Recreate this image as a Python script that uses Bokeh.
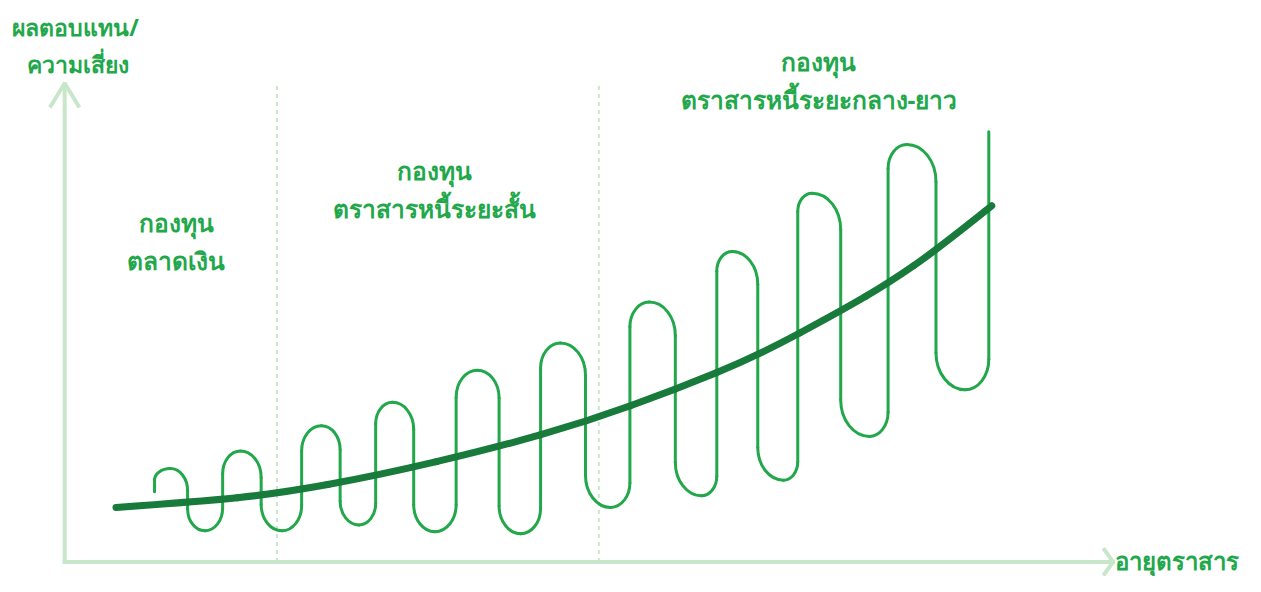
from bokeh.plotting import figure
from bokeh.models import Range1d, ColumnDataSource
from bokeh.core.properties import value
from bokeh.embed import file_html
from bokeh.resources import INLINE

# ---------------- data (conceptual units: x = bond maturity, y = return/risk) -------------
# oscillating "volatility" line: start, alternating peaks / troughs, end
wave_x = [91, 107, 142, 178, 220, 260, 298, 332, 375, 418, 462, 502, 553, 592, 645, 676, 728, 757, 815, 853, 912, 936]
wave_y = [72, 96, 32, 114, 32, 140, 38, 164, 31, 197, 29, 225, 56, 267, 68, 319, 84, 379, 129, 429, 177, 442]

# expected return trend
trend_x = [52, 135, 215, 318, 435, 528, 618, 702, 788, 835, 885, 939]
trend_y = [56, 62, 70, 89, 117, 144, 177, 212, 259, 287, 322, 366]

# zone separators (maturity boundaries)
zone_bounds = [215, 541]

y_title = ["ผลตอบแทน/", "ความเสี่ยง"]
x_title = "อายุตราสาร"
zone_labels = [
    ["กองทุน", "ตลาดเงิน"],
    ["กองทุน", "ตราสารหนี้ระยะสั้น"],
    ["กองทุน", "ตราสารหนี้ระยะกลาง-ยาว"],
]

# ---------------- styling / layout -------------
TEXT_C = "#22a84b"
WAVE_C = "#22a74b"
TREND_C = "#187a3b"
AXIS_C = "#c8e7ca"
FONT = value("Noto Sans")

W, H = 1245, 576
p = figure(width=W, height=H, output_backend="svg", toolbar_location=None,
           x_range=Range1d(-65, 1196), y_range=Range1d(-15, 577),
           min_border=0, outline_line_color=None)
p.axis.visible = False
p.grid.visible = False
p.background_fill_color = "white"
p.border_fill_color = "white"

# axes with arrows
y_top = 489
x_end = 1062
p.segment(x0=[0, 0], y0=[0, 0], x1=[0, x_end], y1=[y_top + 2, 0],
          line_color=AXIS_C, line_width=4, line_cap="square")
p.line(x=[-15, 0, 15], y=[y_top - 22, y_top + 3, y_top - 22], line_color=AXIS_C, line_width=4)
p.line(x=[x_end - 10, x_end, x_end - 10], y=[14, 0, -14], line_color=AXIS_C, line_width=4)

# dotted zone separators
p.segment(x0=zone_bounds, y0=[0] * len(zone_bounds), x1=zone_bounds, y1=[y_top] * len(zone_bounds),
          line_color=AXIS_C, line_width=2, line_dash="4 4")

# ---------------- wave built from extrema with rounded caps -------------
K = 1.3   # vertical/horizontal ratio of loop caps
C = 0.5523
bx0, by0, bx1, by1, bcx0, bcy0, bcx1, bcy1 = ([] for _ in range(8))
sx0, sy0, sx1, sy1 = ([] for _ in range(4))
n = len(wave_x)
for i in range(n - 1):
    ax, ay = wave_x[i], wave_y[i]
    bx, by = wave_x[i + 1], wave_y[i + 1]
    d = 1 if by > ay else -1
    if i == 0:
        sx = ax
    elif i == n - 2:
        sx = bx
    else:
        sx = (ax + bx) / 2.0
    half = abs(by - ay) / 2.0
    if i == 0:
        top = (ax, ay)
    else:
        r = abs(sx - ax)
        ry = min(r * K, half)
        y1 = ay + d * ry
        bx0.append(ax); by0.append(ay); bx1.append(sx); by1.append(y1)
        bcx0.append(ax + C * (sx - ax)); bcy0.append(ay)
        bcx1.append(sx); bcy1.append(y1 - d * C * ry)
        top = (sx, y1)
    if i == n - 2:
        bot = (bx, by)
    else:
        r = abs(bx - sx)
        ry = min(r * K, half)
        y0 = by - d * ry
        bx0.append(sx); by0.append(y0); bx1.append(bx); by1.append(by)
        bcx0.append(sx); bcy0.append(y0 + d * C * ry)
        bcx1.append(bx - C * (bx - sx)); bcy1.append(by)
        bot = (sx, y0)
    sx0.append(top[0]); sy0.append(top[1]); sx1.append(bot[0]); sy1.append(bot[1])

p.bezier(x0=bx0, y0=by0, x1=bx1, y1=by1, cx0=bcx0, cy0=bcy0, cx1=bcx1, cy1=bcy1,
         line_color=WAVE_C, line_width=3, line_cap="round")
p.segment(x0=sx0, y0=sy0, x1=sx1, y1=sy1, line_color=WAVE_C, line_width=3, line_cap="round")

# trend curve, smoothed with quadratic pieces through the data points' midpoints
m = len(trend_x)
qx0, qy0, qx1, qy1, qcx, qcy = ([] for _ in range(6))
for i in range(1, m - 1):
    qx0.append(trend_x[0] if i == 1 else (trend_x[i - 1] + trend_x[i]) / 2.0)
    qy0.append(trend_y[0] if i == 1 else (trend_y[i - 1] + trend_y[i]) / 2.0)
    qx1.append(trend_x[-1] if i == m - 2 else (trend_x[i] + trend_x[i + 1]) / 2.0)
    qy1.append(trend_y[-1] if i == m - 2 else (trend_y[i] + trend_y[i + 1]) / 2.0)
    qcx.append(trend_x[i]); qcy.append(trend_y[i])
p.quadratic(x0=qx0, y0=qy0, x1=qx1, y1=qy1, cx=qcx, cy=qcy,
            line_color=TREND_C, line_width=7, line_cap="round")

# ---------------- texts -------------
label_pos_x = [113, 375, 764]
label_pos_y = [349, 402, 514]
line_gap = 39
tx, ty, tt = [], [], []
for (l1, l2), x, y in zip(zone_labels, label_pos_x, label_pos_y):
    tx += [x, x]; ty += [y, y - line_gap]; tt += [l1, l2]
src = ColumnDataSource(dict(x=tx, y=ty, t=tt))
p.text(x="x", y="y", text="t", source=src, text_align="center", text_baseline="middle",
       text_color=TEXT_C, text_font=FONT, text_font_style="bold", text_font_size="24.5px")
p.text(x=[11, 13], y=[550, 512], text=y_title, text_align="center", text_baseline="middle",
       text_color=TEXT_C, text_font=FONT, text_font_style="bold", text_font_size="23px")
p.text(x=[1064], y=[1], text=[x_title], text_align="left", text_baseline="middle",
       text_color=TEXT_C, text_font=FONT, text_font_style="bold", text_font_size="24px")

open("out.html", "w").write(file_html(p, INLINE))
